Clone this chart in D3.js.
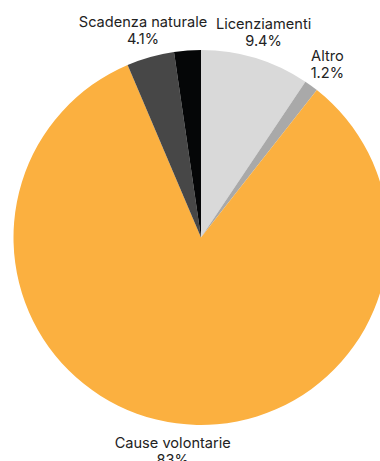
<!DOCTYPE html>
<html><head><meta charset="utf-8">
<script src="https://cdn.jsdelivr.net/npm/d3@7"></script>
<style>html,body{margin:0;padding:0;background:#fff;overflow:hidden}</style>
</head><body>
<svg id="c" width="380" height="461"></svg>
<script>
const categories = ["Licenziamenti", "Altro", "Cause volontarie", "Scadenza naturale", "Altre cause"];
const values = [9.4, 1.2, 83, 4.1, 2.3];
const valueLabels = ["9.4%", "1.2%", "83%", "4.1%", ""];
const colors = ["#d9d9d9", "#a9a9a9", "#fbb040", "#474747", "#050607"];
const showLabel = [true, true, true, true, false];

const svg = d3.select("#c");
const cx = 201, cy = 237.5, r = 187.5, lr = 215, topLimit = -210;
const g = svg.append("g").attr("transform", `translate(${cx},${cy})`);
const pie = d3.pie().sort(null).value(d => d)(values);
const arc = d3.arc().innerRadius(0).outerRadius(r);
g.selectAll("path").data(pie).join("path")
  .attr("d", arc).attr("fill", (d, i) => colors[i]);

const labelArc = d3.arc().innerRadius(lr).outerRadius(lr);
pie.forEach((d, i) => {
  if (!showLabel[i]) return;
  let [x, y] = labelArc.centroid(d);
  if (y < topLimit) { y = topLimit; x = Math.sign(x) * Math.sqrt(lr * lr - y * y); }
  const t = g.append("text").attr("text-anchor", "middle")
    .attr("font-family", "Inter, sans-serif").attr("font-size", 14.6).attr("fill", "#222");
  t.append("tspan").attr("x", x).attr("y", y - 3).text(categories[i]);
  t.append("tspan").attr("x", x).attr("y", y + 14).text(valueLabels[i]);
});
</script>
</body></html>
